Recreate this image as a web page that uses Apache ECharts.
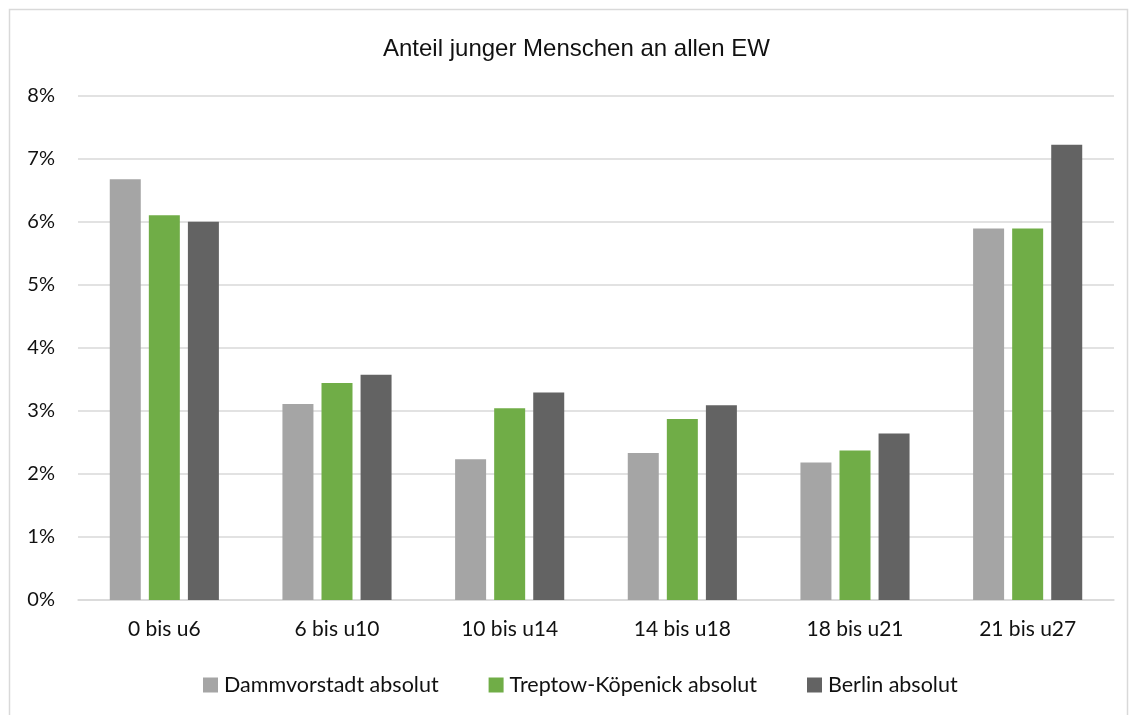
<!DOCTYPE html>
<html>
<head>
<meta charset="utf-8">
<script src="https://cdn.jsdelivr.net/npm/echarts@6/dist/echarts.min.js"></script>
<style>
  html, body { margin: 0; padding: 0; background: #fff; }
  #chart { width: 1135px; height: 715px; }
</style>
</head>
<body>
<div id="chart"></div>
<script>
// Altersgruppen
var categories = ['0 bis u6', '6 bis u10', '10 bis u14', '14 bis u18', '18 bis u21', '21 bis u27'];
// Anteile in %
var dammvorstadt = [6.67, 3.11, 2.23, 2.33, 2.18, 5.89];
var treptowKoepenick = [6.10, 3.44, 3.04, 2.87, 2.37, 5.89];
var berlin = [6.00, 3.57, 3.29, 3.09, 2.64, 7.22];
var yTicks = [0, 1, 2, 3, 4, 5, 6, 7, 8];

var labelFont = 'Lato, "Open Sans", sans-serif';

var chart = echarts.init(document.getElementById('chart'));
var option = {
    animation: false,
    backgroundColor: '#ffffff',
    graphic: [{
        type: 'rect',
        shape: { x: 9.5, y: 9.5, width: 1118, height: 730 },
        style: { fill: 'none', stroke: '#d9d9d9', lineWidth: 1.5 },
        silent: true
    }],
    title: {
        text: 'Anteil junger Menschen an allen EW',
        left: 378,
        top: 32,
        textStyle: {
            fontFamily: '"Liberation Sans Narrow", "Liberation Sans", Arial, sans-serif',
            fontSize: 24,
            fontWeight: 'normal',
            color: '#111'
        }
    },
    legend: {
        bottom: 14,
        left: 198,
        itemWidth: 15,
        itemHeight: 15,
        itemGap: 50,
        icon: 'rect',
        textStyle: { fontFamily: labelFont, fontSize: 21.5, color: '#111', padding: [0, 0, 0, 1] },
        data: ['Dammvorstadt absolut', 'Treptow-Köpenick absolut', 'Berlin absolut']
    },
    grid: {
        left: 78,
        right: 21,
        top: 95.5,
        bottom: 115
    },
    xAxis: {
        type: 'category',
        data: categories,
        axisLine: { lineStyle: { color: '#d9d9d9', width: 1.5 } },
        axisTick: { show: false },
        axisLabel: { fontFamily: labelFont, fontSize: 21, color: '#111', margin: 19 }
    },
    yAxis: {
        type: 'value',
        min: yTicks[0],
        max: yTicks[yTicks.length - 1],
        interval: 1,
        axisLine: { show: false },
        axisTick: { show: false },
        splitLine: { lineStyle: { color: '#d9d9d9', width: 1.5 } },
        axisLabel: {
            fontFamily: labelFont, fontSize: 20, color: '#111', margin: 23,
            formatter: function (v) { return v + '%'; }
        }
    },
    series: [
        {
            name: 'Dammvorstadt absolut',
            type: 'bar',
            data: dammvorstadt,
            barWidth: 31,
            barGap: '26%',
            itemStyle: { color: '#a5a5a5' }
        },
        {
            name: 'Treptow-Köpenick absolut',
            type: 'bar',
            data: treptowKoepenick,
            barWidth: 31,
            barGap: '26%',
            itemStyle: { color: '#70ad47' }
        },
        {
            name: 'Berlin absolut',
            type: 'bar',
            data: berlin,
            barWidth: 31,
            barGap: '26%',
            itemStyle: { color: '#636363' }
        }
    ]
};
chart.setOption(option);
</script>
</body>
</html>
